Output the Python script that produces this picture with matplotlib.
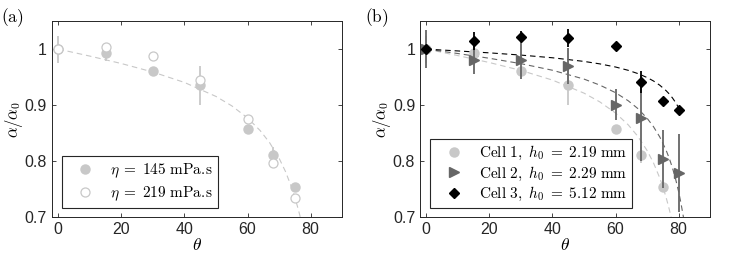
import numpy as np
import matplotlib
matplotlib.use('Agg')
import matplotlib.pyplot as plt

plt.rcParams['mathtext.fontset'] = 'cm'
plt.rcParams['font.family'] = ['Liberation Sans', 'DejaVu Sans']

# measured points, panel (a) and cell 1 of panel (b)
theta_a = [0, 15, 30, 45, 60, 68, 75]
eta145 = [1.0, 0.993, 0.960, 0.935, 0.858, 0.811, 0.753]
eta145_err = [0.024, 0.015, 0.004, 0.035, 0.004, 0.014, 0.004]
eta219 = [1.0, 1.003, 0.987, 0.945, 0.876, 0.797, 0.734]

# cells 2 and 3 of panel (b)
theta_b = [0, 15, 30, 45, 60, 68, 75, 80]
cell2 = [1.0, 0.980, 0.980, 0.970, 0.901, 0.877, 0.804, 0.779]
cell2_err = [0.034, 0.025, 0.033, 0.032, 0.028, 0.077, 0.052, 0.070]
cell3 = [1.0, 1.015, 1.022, 1.020, 1.006, 0.941, 0.908, 0.892]
cell3_err = [0.004, 0.016, 0.010, 0.016, 0.006, 0.020, 0.004, 0.004]

# dashed fit curves
fit_a_x = [0, 10, 20, 30, 40, 50, 55, 60, 64, 67, 70, 72, 74, 75, 76, 76.7]
fit_a_y = [1.0, 0.9875, 0.9742, 0.959, 0.9404, 0.9154, 0.8986, 0.877, 0.8544,
           0.8327, 0.8049, 0.7815, 0.7524, 0.735, 0.7152, 0.70]
fit1_x = [0, 10, 20, 30, 40, 50, 55, 60, 64, 67, 70, 72, 74, 75, 76, 77, 77.6]
fit1_y = [1.0, 0.9884, 0.976, 0.9619, 0.9446, 0.9213, 0.9057, 0.8857, 0.8647,
          0.8445, 0.8187, 0.7969, 0.7698, 0.7537, 0.7353, 0.7141, 0.70]
fit2_x = [0, 10, 20, 30, 40, 50, 55, 60, 64, 67, 70, 72, 74, 76, 77, 78, 79, 80, 80.5, 81, 81.5]
fit2_y = [1.0, 0.9921, 0.9836, 0.974, 0.9622, 0.9464, 0.9357, 0.9221, 0.9077, 0.894,
          0.8764, 0.8615, 0.8431, 0.8195, 0.8051, 0.7883, 0.7685, 0.7448, 0.7311, 0.7159, 0.70]
fit3_x = [0, 10, 20, 30, 40, 50, 55, 60, 64, 67, 70, 72, 74, 76, 77, 78, 79, 80]
fit3_y = [1.0, 0.9967, 0.9933, 0.9893, 0.9845, 0.978, 0.9736, 0.968, 0.9621, 0.9564,
          0.9492, 0.9431, 0.9355, 0.9258, 0.9199, 0.913, 0.9048, 0.8951]

light = '#c8c8c8'
dark = '#666666'
axcol = '#262626'

fig = plt.figure(figsize=(7.48, 2.64), dpi=100)
axa = fig.add_axes([0.0695, 0.178, 0.388, 0.742])
axb = fig.add_axes([0.5615, 0.178, 0.388, 0.742])

def style(ax):
    ax.set_xlim(-2, 90)
    ax.set_ylim(0.7, 1.05)
    ax.set_xticks([0, 20, 40, 60, 80])
    ax.set_yticks([0.7, 0.8, 0.9, 1.0])
    ax.set_yticklabels(['0.7', '0.8', '0.9', '1'])
    ax.tick_params(direction='in', length=3, width=0.6, top=True, right=True,
                   labelsize=11.5, colors=axcol, pad=3.5)
    for s in ax.spines.values():
        s.set_color(axcol)
        s.set_linewidth(0.7)
    ax.set_xlabel(r'$\theta$', fontsize=12.5, labelpad=0)
    ax.set_ylabel(r'$\alpha/\alpha_0$', fontsize=12, labelpad=0)

dash = (0, (5, 3.5))
legkw = dict(loc='lower left', borderaxespad=0, fontsize=11, fancybox=False,
             framealpha=1, edgecolor=axcol, handlelength=2.4, handletextpad=0.45,
             borderpad=0.35)

# panel (a)
axa.plot(fit_a_x, fit_a_y, color=light, lw=0.8, linestyle=dash, zorder=1)
axa.errorbar(theta_a, eta145, yerr=eta145_err, fmt='none', ecolor=light, elinewidth=1.3, zorder=2)
h1, = axa.plot(theta_a, eta145, 'o', color=light, ms=6.5, mec=light, zorder=3,
               label=r'$\eta\;=\;145\ \mathrm{mPa.\!s}$')
h2, = axa.plot(theta_a, eta219, 'o', mfc='white', mec=light, mew=0.9, ms=6.5, zorder=4,
               label=r'$\eta\;=\;219\ \mathrm{mPa.\!s}$')
style(axa)
leg = axa.legend(handles=[h1, h2], bbox_to_anchor=(0.033, 0.044), labelspacing=0.3, **legkw)
leg.get_frame().set_linewidth(0.8)

# panel (b)
axb.plot(fit1_x, fit1_y, color=light, lw=0.8, linestyle=dash, zorder=1)
axb.plot(fit2_x, fit2_y, color=dark, lw=0.8, linestyle=dash, zorder=1)
axb.plot(fit3_x, fit3_y, color='black', lw=0.8, linestyle=dash, zorder=1)
axb.errorbar(theta_a, eta145, yerr=eta145_err, fmt='none', ecolor=light, elinewidth=1.3, zorder=2)
g1, = axb.plot(theta_a, eta145, 'o', color=light, ms=6.5, mec=light, zorder=3,
               label=r'$\mathrm{Cell\ 1,}\ h_0\;=\;2.19\ \mathrm{mm}$')
axb.errorbar(theta_b, cell2, yerr=cell2_err, fmt='none', ecolor=dark, elinewidth=1.3, zorder=4)
g2, = axb.plot(theta_b, cell2, '>', color=dark, ms=7, mec=dark, zorder=5,
               label=r'$\mathrm{Cell\ 2,}\ h_0\;=\;2.29\ \mathrm{mm}$')
axb.errorbar(theta_b, cell3, yerr=cell3_err, fmt='none', ecolor='black', elinewidth=1.3, zorder=6)
g3, = axb.plot(theta_b, cell3, 'D', color='black', ms=5.5, zorder=7,
               label=r'$\mathrm{Cell\ 3,}\ h_0\;=\;5.12\ \mathrm{mm}$')
style(axb)
leg = axb.legend(handles=[g1, g2, g3], bbox_to_anchor=(0.034, 0.044), labelspacing=0.15, **legkw)
leg.get_frame().set_linewidth(0.8)

fig.text(0.002, 0.975, r'$\mathrm{(a)}$', fontsize=12.5, va='top', ha='left')
fig.text(0.488, 0.975, r'$\mathrm{(b)}$', fontsize=12.5, va='top', ha='left')

fig.savefig('out.png', dpi=100)
